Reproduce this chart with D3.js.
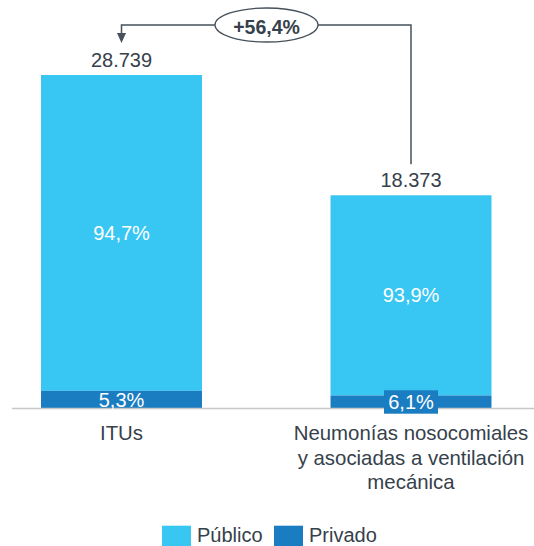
<!DOCTYPE html>
<html>
<head>
<meta charset="utf-8">
<script src="https://cdn.jsdelivr.net/npm/d3@7"></script>
<style>
  html, body { margin: 0; padding: 0; background: #fff; }
  svg { display: block; font-family: "Liberation Sans", Arial, sans-serif; }
</style>
</head>
<body>
<svg id="chart" width="534" height="546"></svg>
<script>
const categories = ["ITUs", "Neumonías nosocomiales\ny asociadas a ventilación\nmecánica"];
const totals = [28739, 18373];
const totalLabels = ["28.739", "18.373"];
const publicoPct = [94.7, 93.9];
const privadoPct = [5.3, 6.1];
const publicoLabels = ["94,7%", "93,9%"];
const privadoLabels = ["5,3%", "6,1%"];
const seriesNames = ["Público", "Privado"];
const changeLabel = "+56,4%";

const colors = { pub: "#38c6f3", priv: "#1a7cc1", text: "#36414b", axis: "#c8c8c8", anno: "#46515b" };

const svg = d3.select("#chart");
const baseline = 408.5;

const x = d3.scaleBand().domain(categories).range([-23.25, 555.75]).paddingInner(0.444).paddingOuter(0.222);
const y = d3.scaleLinear().domain([0, d3.max(totals)]).range([baseline, 75]);

const data = categories.map((c, i) => ({
  cat: c, total: totals[i], totalLabel: totalLabels[i],
  priv: totals[i] * privadoPct[i] / 100,
  pubLabel: publicoLabels[i], privLabel: privadoLabels[i], i
}));

// bars
const g = svg.append("g");
g.selectAll("rect.pub").data(data).join("rect")
  .attr("x", d => x(d.cat)).attr("width", x.bandwidth())
  .attr("y", d => y(d.total)).attr("height", d => y(d.priv) - y(d.total))
  .attr("fill", colors.pub);
g.selectAll("rect.priv").data(data).join("rect")
  .attr("x", d => x(d.cat)).attr("width", x.bandwidth())
  .attr("y", d => y(d.priv)).attr("height", d => baseline - y(d.priv))
  .attr("fill", colors.priv);

// axis line
svg.append("line").attr("x1", 12).attr("x2", 534).attr("y1", baseline).attr("y2", baseline)
  .attr("stroke", colors.axis).attr("stroke-width", 1.5);

data.forEach(d => {
  const cx = x(d.cat) + x.bandwidth() / 2;
  const cy = (y(d.priv) + baseline) / 2;
  if (baseline - y(d.priv) < 16) {
    svg.append("rect").attr("x", cx - 27).attr("y", cy - 11.7).attr("width", 54).attr("height", 23.4)
      .attr("fill", colors.priv);
  }
  svg.append("text").attr("x", cx).attr("y", cy + 7).attr("text-anchor", "middle")
    .attr("font-size", 20).attr("fill", "#fff").text(d.privLabel);
  const pc = (y(d.total) + y(d.priv)) / 2;
  svg.append("text").attr("x", cx).attr("y", pc + 7).attr("text-anchor", "middle")
    .attr("font-size", 20).attr("fill", "#fff").text(d.pubLabel);
  svg.append("text").attr("x", cx).attr("y", y(d.total) - 8).attr("text-anchor", "middle")
    .attr("font-size", 20).attr("fill", colors.text).text(d.totalLabel);
  const lines = d.cat.split("\n");
  const t = svg.append("text").attr("text-anchor", "middle").attr("font-size", 20.4).attr("fill", colors.text);
  lines.forEach((ln, k) => t.append("tspan").attr("x", cx).attr("y", 440 + k * 24.5).text(ln));
});

// annotation
const cx0 = x(categories[0]) + x.bandwidth() / 2;
const cx1 = x(categories[1]) + x.bandwidth() / 2;
const ex = 266.5, ey = 25, rx = 51.5, ry = 17;
svg.append("path")
  .attr("d", `M${ex - rx},${ey} H${cx0} V${33}`)
  .attr("fill", "none").attr("stroke", colors.anno).attr("stroke-width", 1.5);
svg.append("path")
  .attr("d", `M${cx0 - 4.5},${33} L${cx0 + 4.5},${33} L${cx0},${43} Z`)
  .attr("fill", colors.anno);
svg.append("path")
  .attr("d", `M${ex + rx},${ey} H${cx1} V${y(totals[1]) - 31}`)
  .attr("fill", "none").attr("stroke", colors.anno).attr("stroke-width", 1.5);
svg.append("ellipse").attr("cx", ex).attr("cy", ey).attr("rx", rx).attr("ry", ry)
  .attr("fill", "#fff").attr("stroke", colors.anno).attr("stroke-width", 1.3);
svg.append("text").attr("x", ex).attr("y", ey + 8.5).attr("text-anchor", "middle")
  .attr("font-size", 19.5).attr("font-weight", "bold").attr("fill", colors.text).text(changeLabel);

// legend
const legendX = [162, 274];
const legendColors = [colors.pub, colors.priv];
seriesNames.forEach((s, i) => {
  svg.append("rect").attr("x", legendX[i]).attr("y", 525.7).attr("width", 29).attr("height", 29)
    .attr("fill", legendColors[i]);
  svg.append("text").attr("x", legendX[i] + 35).attr("y", 542).attr("font-size", 20)
    .attr("fill", colors.text).text(s);
});
</script>
</body>
</html>
